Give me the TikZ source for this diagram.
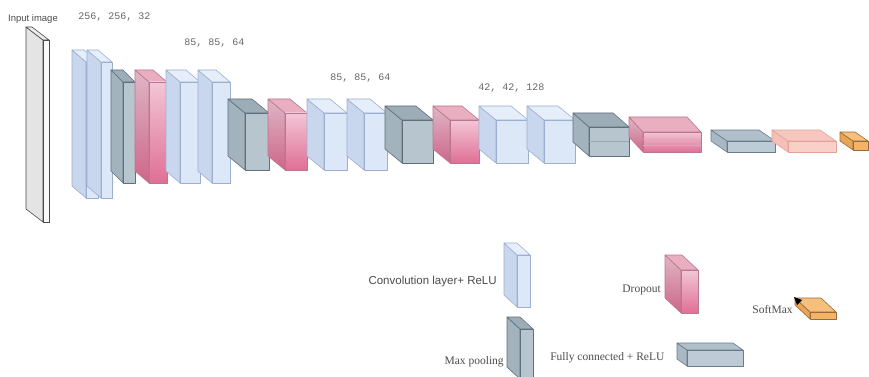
\documentclass[tikz,border=0pt]{standalone}
\usepackage{fontspec}
\setmainfont{Liberation Serif}
\setsansfont{Liberation Sans}
\setmonofont{Liberation Mono}
\definecolor{convF}{HTML}{DCE7F7}\definecolor{convL}{HTML}{C9D7EE}\definecolor{convT}{HTML}{E6EEFA}\definecolor{convD}{HTML}{9DAFD0}
\definecolor{poolF}{HTML}{B7C6CE}\definecolor{poolL}{HTML}{A3B3BD}\definecolor{poolT}{HTML}{9DADB8}\definecolor{poolD}{HTML}{5F6F7C}
\definecolor{dropA}{HTML}{F2C6D6}\definecolor{dropB}{HTML}{E06F95}\definecolor{dropT}{HTML}{E9AEBF}\definecolor{dropD}{HTML}{B9778F}
\definecolor{inF}{HTML}{FAFAFA}\definecolor{inL}{HTML}{E4E4E4}\definecolor{inT}{HTML}{EDEDED}\definecolor{inD}{HTML}{4A4A4A}
\definecolor{fcF}{HTML}{BCCBD5}\definecolor{fcL}{HTML}{A9B9C4}\definecolor{fcT}{HTML}{B0C0CB}\definecolor{fcD}{HTML}{6B7B88}
\definecolor{fcpF}{HTML}{F9D0C8}\definecolor{fcpL}{HTML}{F4BFB6}\definecolor{fcpT}{HTML}{F7C7BF}\definecolor{fcpD}{HTML}{E2A39A}
\definecolor{smF}{HTML}{F4B468}\definecolor{smL}{HTML}{E8A458}\definecolor{smT}{HTML}{F6C07C}\definecolor{smD}{HTML}{9A6B3A}
\tikzset{
  every path/.append style={line width=0.6pt, line join=round},
  conv front/.style={fill=convF, draw=convD}, conv left/.style={fill=convL, draw=convD}, conv top/.style={fill=convT, draw=convD},
  pool front/.style={fill=poolF, draw=poolD}, pool left/.style={fill=poolL, draw=poolD}, pool top/.style={fill=poolT, draw=poolD},
  drop front/.style={top color=dropA, bottom color=dropB, draw=dropD}, drop left/.style={top color=dropA!92!black, bottom color=dropB!92!black, draw=dropD}, drop top/.style={fill=dropT, draw=dropD},
  inp front/.style={fill=inF, draw=inD}, inp left/.style={fill=inL, draw=inD}, inp top/.style={fill=inT, draw=inD},
  fc front/.style={fill=fcF, draw=fcD}, fc left/.style={fill=fcL, draw=fcD}, fc top/.style={fill=fcT, draw=fcD},
  fcp front/.style={fill=fcpF, draw=fcpD}, fcp left/.style={fill=fcpL, draw=fcpD}, fcp top/.style={fill=fcpT, draw=fcpD},
  sm front/.style={fill=smF, draw=smD}, sm left/.style={fill=smL, draw=smD}, sm top/.style={fill=smT, draw=smD},
  dimlabel/.style={font=\ttfamily\fontsize{10}{12}\selectfont, text=black!60, inner sep=0pt},
  legsans/.style={font=\sffamily\fontsize{11.5}{13}\selectfont, text=black!70, inner sep=0pt},
  legserif/.style={font=\rmfamily\fontsize{11.5}{13}\selectfont, text=black!70, inner sep=0pt}
}
% #1 x, #2 y (front face top-left), #3 width, #4 height, #5 dx, #6 dy (depth offset up-left), #7 type
\newcommand{\cub}[7]{%
  \path[#7 left] (#1,#2) -- ++(-#5,-#6) -- ++(0,#4) -- ++(#5,#6) -- cycle;
  \path[#7 top] (#1,#2) -- ++(-#5,-#6) -- ++(#3,0) -- ++(#5,#6) -- cycle;
  \path[#7 front] (#1,#2) rectangle ++(#3,#4);
}
\begin{document}
\begin{tikzpicture}[x=1pt,y=-1pt]
\useasboundingbox (0,0) rectangle (869,377);
\fill[white] (0,0) rectangle (869,377);
% main network
\cub{43}{40}{6}{182}{17}{13}{inp}
\cub{86}{62}{12}{136}{14}{12}{conv}
\cub{101}{62}{11}{136}{14}{12}{conv}
\cub{123}{82}{12}{101}{12}{12}{pool}
\cub{149}{82}{18}{101}{14}{12}{drop}
\cub{180}{82}{20}{101}{14}{12}{conv}
\cub{212}{82}{18}{101}{14}{12}{conv}
\cub{245}{113}{24}{57}{17}{14}{pool}
\cub{285}{113}{22}{57}{17}{14}{drop}
\cub{324}{113}{23}{57}{17}{14}{conv}
\cub{364}{113}{23}{57}{17}{14}{conv}
\cub{402}{120}{31}{43}{17}{14}{pool}
\cub{450}{120}{29}{43}{17}{14}{drop}
\cub{496}{120}{32}{43}{17}{14}{conv}
\cub{544}{120}{31}{43}{17}{14}{conv}
\cub{589}{127}{40}{29}{16}{14}{pool}
\draw[poolD!35!poolF, line width=0.4pt] (589,141) -- (629,141);
\cub{643}{132}{58}{20}{14}{15}{drop}
\draw[dropD!40!dropA, line width=0.4pt] (643,139) -- (701,139) (643,145) -- (701,145);
\cub{727}{141}{48}{11}{16}{11}{fc}
\cub{788}{141}{48}{11}{16}{11}{fcp}
\cub{853}{141}{15}{9}{13}{9}{sm}
% dimension labels
\node[dimlabel, anchor=west] (l1) at (78,17) {256, 256, 32};
\node[dimlabel, anchor=west] (l2) at (184,43) {85, 85, 64};
\node[dimlabel, anchor=west] (l3) at (330,78) {85, 85, 64};
\node[dimlabel, anchor=west] (l4) at (478,88) {42, 42, 128};
\node[font=\sffamily\fontsize{9.5}{11}\selectfont, text=black!70, inner sep=0pt] (inlab) at (33,19) {Input image};
% legend
\cub{517}{255}{13}{52}{13}{12}{conv}
\node[legsans, anchor=east] (tconv) at (497,282) {Convolution layer+ ReLU};
\cub{520}{329}{13}{50}{13}{12}{pool}
\node[legserif, anchor=east] (tpool) at (504,362) {Max pooling};
\cub{681}{270}{17}{43}{16}{15}{drop}
\node[legserif, anchor=east] (tdrop) at (661,290) {Dropout};
\cub{687}{350}{56}{16}{10}{7}{fc}
\node[legserif, anchor=west] (tfc) at (550,358) {Fully connected + ReLU};
\cub{810}{312}{26}{7}{15}{14}{sm}
\fill[black] (794,297) -- (802,300) -- (797,305) -- cycle;
\node[legserif, anchor=east] (tsm) at (793,310) {SoftMax};
\end{tikzpicture}
\end{document}
